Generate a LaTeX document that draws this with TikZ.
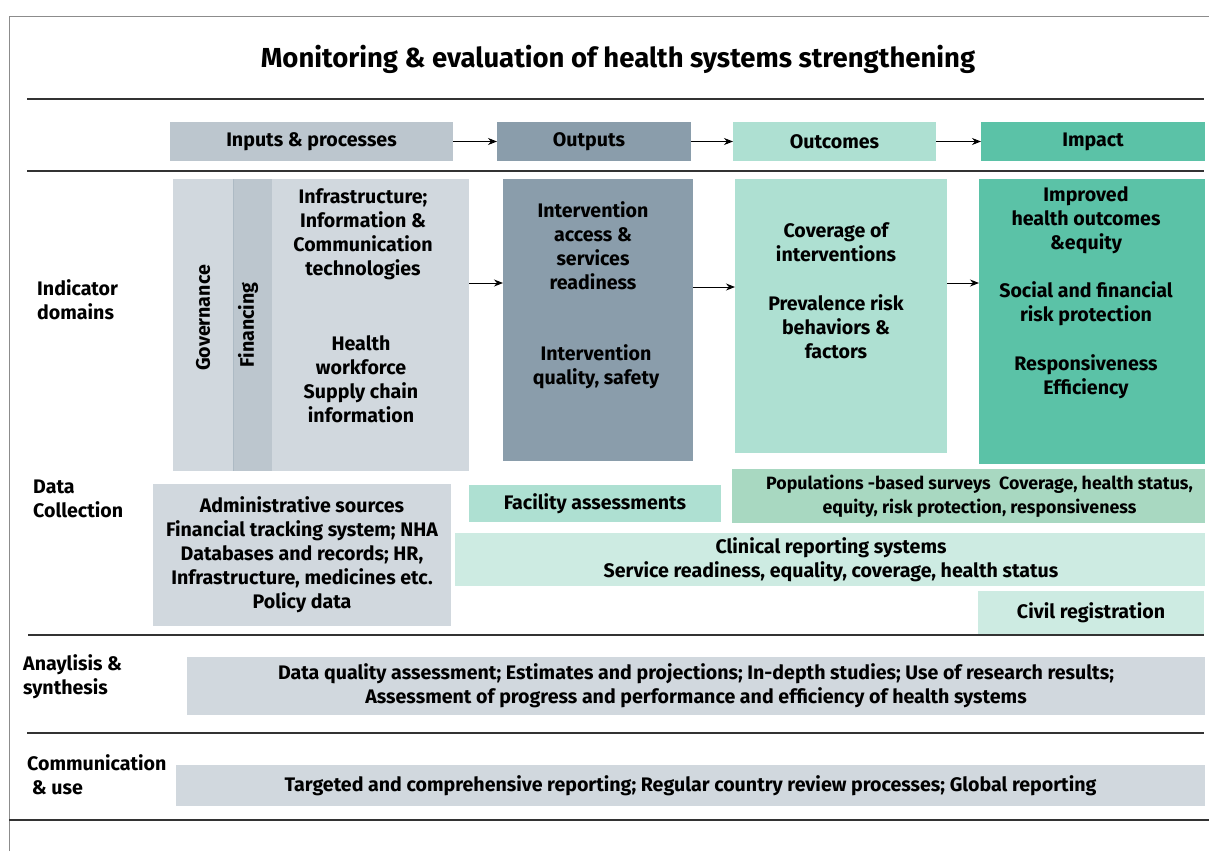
\documentclass[tikz,border=0pt]{standalone}
\usepackage{fontspec}
\setmainfont{Fira Sans}
\usetikzlibrary{arrows.meta}
\definecolor{cLight}{HTML}{D1D8DE}
\definecolor{cMid}{HTML}{BCC6CE}
\definecolor{cDark}{HTML}{8A9DAB}
\definecolor{cMint}{HTML}{AEE0D2}
\definecolor{cTeal}{HTML}{5BC2A7}
\definecolor{cGreen}{HTML}{A8D8C1}
\definecolor{cPale}{HTML}{CDEBE2}
\definecolor{cFrame}{HTML}{8C8C8C}
\definecolor{cRule}{HTML}{333333}
\tikzset{
  box/.style={draw=none, inner sep=0pt, outer sep=0pt, anchor=north west},
  txt/.style={font=\bfseries\fontsize{19.6}{24}\selectfont, align=center, inner sep=0pt, text=black},
  ltxt/.style={font=\bfseries\fontsize{19.6}{24}\selectfont, align=left, inner sep=0pt, anchor=west, text=black},
  arr/.style={-{Stealth[length=9pt,width=7pt]}, line width=1pt, black},
  rule/.style={line width=1.3pt, cRule},
}
\newcommand{\bx}[6]{% name, x1, y1, x2, y2, colour
  \node[box, fill=#6, minimum width=#4pt-#2pt, minimum height=#5pt-#3pt] (#1) at (#2,#3) {};}
\begin{document}
\begin{tikzpicture}[x=1pt,y=-1pt]
\useasboundingbox (0,0) rectangle (1209,851);
% frame
\draw[cFrame, line width=0.8pt] (9,851) -- (9,16) -- (1209,16);
% rules
\draw[rule] (27,99) -- (1204,99);
\draw[rule] (27,171) -- (1204,171);
\draw[rule] (28,635) -- (1204,635);
\draw[rule] (27,733) -- (1204,733);
\draw[rule] (9,820) -- (1209,820);
% title
\node[font=\bfseries\fontsize{27.5}{32}\selectfont, inner sep=0pt] (title) at (618,59) {Monitoring \& evaluation of health systems strengthening};
% header boxes
\bx{hin}{170}{122}{453}{161}{cMid}
\bx{hout}{497}{122}{691}{161}{cDark}
\bx{hoc}{733}{122}{936}{161}{cMint}
\bx{himp}{981}{122}{1205}{161}{cTeal}
\node[txt] at (hin.center) {Inputs \& processes};
\node[txt] at ([xshift=-5pt]hout.center) {Outputs};
\node[txt] at (hoc.center) {Outcomes};
\node[txt] at (himp.center) {Impact};
\draw[arr] (hin.east) -- (hout.west);
\draw[arr] (hout.east) -- (hoc.west);
\draw[arr] (hoc.east) -- (himp.west);
% indicator domains
\node[ltxt] (lind) at (37,300) {Indicator\\domains};
\bx{inp}{173}{179}{469}{471}{cLight}
\bx{fin}{233}{179}{272}{471}{cMid}
\draw[cDark!70, line width=0.5pt] (fin.north west) -- (fin.south west);
\node[txt, rotate=90] (gov) at (203,318) {Governance};
\node[txt, rotate=90] (fint) at (248,325) {Financing};
\node[txt] (inp1) at (363,234) {Infrastructure;\\Information \&\\Communication\\technologies};
\node[txt] (inp2) at (361,379) {Health\\workforce\\Supply chain\\information};
\bx{out}{503}{179}{693}{461}{cDark}
\node[txt] (out1) at (593,246) {Intervention\\access \&\\services\\readiness};
\node[txt] (out2) at (596,367) {Intervention\\quality, safety};
\bx{oc}{735}{179}{947}{453}{cMint}
\node[txt] (oc1) at (836,242) {Coverage of\\interventions};
\node[txt] (oc2) at (836,327) {Prevalence risk\\behaviors \&\\factors};
\bx{imp}{979}{179}{1205}{464}{cTeal}
\node[txt] (imp1) at (1086,220) {Improved\\health outcomes\\\&equity};
\node[txt] (imp2) at (1086,304) {Social and financial\\risk protection};
\node[txt] (imp3) at (1086,377) {Responsiveness\\Efficiency};
\coordinate (a1s) at (469,283); \coordinate (a1e) at (503,283);
\coordinate (a2s) at (693,287); \coordinate (a2e) at (735,287);
\coordinate (a3s) at (947,283); \coordinate (a3e) at (979,283);
\draw[arr] (a1s) -- (a1e);
\draw[arr] (a2s) -- (a2e);
\draw[arr] (a3s) -- (a3e);
% data collection
\node[ltxt] (ldc) at (33,499) {Data\\Collection};
\bx{adm}{153}{484}{451}{626}{cLight}
\node[txt] at (adm.center) {Administrative sources\\Financial tracking system; NHA\\Databases and records; HR,\\Infrastructure, medicines etc.\\Policy data};
\bx{pop}{732}{469}{1205}{523}{cGreen}
\node[txt, font=\bfseries\fontsize{17.8}{24}\selectfont] at ([xshift=11pt]pop.center) {Populations -based surveys\ \ Coverage, health status,\\equity, risk protection, responsiveness};
\bx{fac}{469}{485}{721}{522}{cMint}
\node[txt] at (fac.center) {Facility assessments};
\bx{clin}{455}{533}{1205}{586}{cPale}
\node[txt] at ([xshift=1pt]clin.center) {Clinical reporting systems\\Service readiness, equality, coverage, health status};
\bx{civ}{978}{591}{1204}{634}{cPale}
\node[txt] at (civ.center) {Civil registration};
% analysis
\node[ltxt] (lana) at (23,677) {Anaylisis \&\\synthesis};
\bx{ana}{187}{657}{1205}{715}{cLight}
\node[txt] at (ana.center) {Data quality assessment; Estimates and projections; In-depth studies; Use of research results;\\Assessment of progress and performance and efficiency of health systems};
% communication
\node[ltxt] (lcom) at (27,775) {Communication\\\ \& use};
\bx{com}{176}{765}{1205}{806}{cLight}
\node[txt] at (com.center) {Targeted and comprehensive reporting; Regular country review processes; Global reporting};
\end{tikzpicture}
\end{document}
